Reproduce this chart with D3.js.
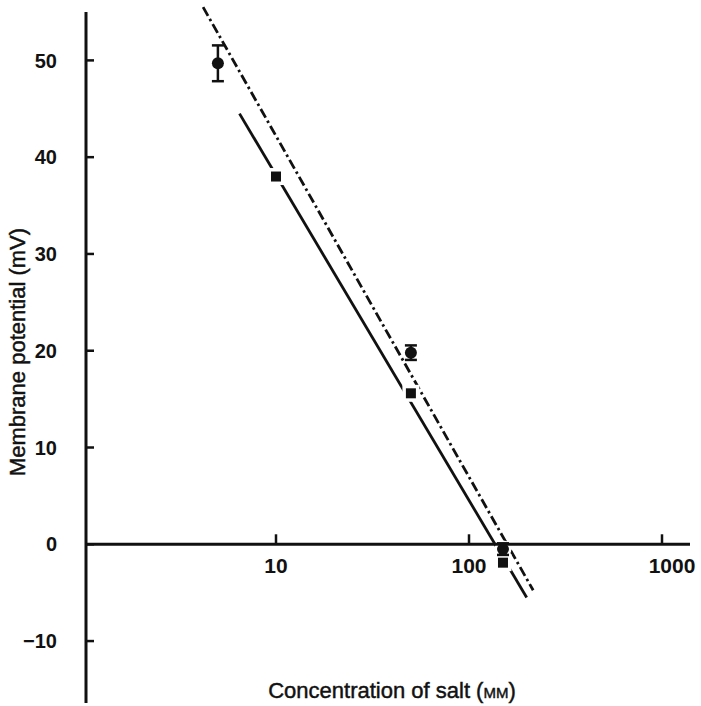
<!DOCTYPE html>
<html>
<head>
<meta charset="utf-8">
<script src="https://cdn.jsdelivr.net/npm/d3@7"></script>
<style>
  body { margin: 0; background: #fff; }
  svg { display: block; }
  text { font-family: "Liberation Sans", Arial, Helvetica, sans-serif; fill: #111; }
  .title { stroke: #111; stroke-width: 0.45px; }
</style>
</head>
<body>
<svg id="chart" width="701" height="706"></svg>
<script>
// values
var circleConc = [5, 50, 150];
var circleMv = [49.7, 19.8, -0.5];
var circleErr = [1.85, 0.75, 0.6];

var squareConc = [10, 50, 150];
var squareMv = [38.0, 15.6, -1.9];

// fitted lines (end points)
var solidConc = [6.47, 199];
var solidMv = [44.5, -5.5];
var dashConc = [4.19, 215];
var dashMv = [55.5, -4.75];

var xTicks = [10, 100, 1000];
var yTicks = [-10, 0, 10, 20, 30, 40, 50];

var width = 701, height = 706;
var axisX = 86;   // where the y axis sits
var axisRight = 690;

var svg = d3.select("#chart");

var xScale = d3.scaleLog().domain([1, 1000]).range([83, 662]);
var yScale = d3.scaleLinear().domain([-16.4, 55]).range([703, 12]);

var ink = "#111";

// lines
var line = d3.line().x(d => xScale(d[0])).y(d => yScale(d[1]));

svg.append("path")
    .attr("d", line(d3.zip(solidConc, solidMv)))
    .attr("fill", "none")
    .attr("stroke", ink)
    .attr("stroke-width", 2.8);

svg.append("path")
    .attr("d", line(d3.zip(dashConc, dashMv)))
    .attr("fill", "none")
    .attr("stroke", ink)
    .attr("stroke-width", 2.8)
    .attr("stroke-dasharray", "10,3.5,2.5,3.5");

var circles = circleConc.map((c, i) => ({c: c, v: circleMv[i], e: circleErr[i]}));
var squares = squareConc.map((c, i) => ({c: c, v: squareMv[i]}));

// white halos so the lines break round the markers
svg.selectAll(".halo-sq").data(squares).enter().append("rect")
    .attr("x", d => xScale(d.c) - 5)
    .attr("y", d => yScale(d.v) - 5)
    .attr("width", 10).attr("height", 10)
    .attr("fill", "#fff").attr("stroke", "#fff").attr("stroke-width", 7);

svg.selectAll(".halo-ci").data(circles).enter().append("circle")
    .attr("cx", d => xScale(d.c))
    .attr("cy", d => yScale(d.v))
    .attr("r", 6)
    .attr("fill", "#fff").attr("stroke", "#fff").attr("stroke-width", 5);

// axes
svg.append("line")
    .attr("x1", axisX).attr("x2", axisX)
    .attr("y1", yScale(55)).attr("y2", yScale(-16.4))
    .attr("stroke", ink).attr("stroke-width", 3);

svg.append("line")
    .attr("x1", axisX).attr("x2", axisRight)
    .attr("y1", yScale(0)).attr("y2", yScale(0))
    .attr("stroke", ink).attr("stroke-width", 3);

svg.selectAll(".xtick").data(xTicks).enter().append("line")
    .attr("x1", d => xScale(d)).attr("x2", d => xScale(d))
    .attr("y1", yScale(0)).attr("y2", yScale(0) - 10)
    .attr("stroke", ink).attr("stroke-width", 2.5);

svg.selectAll(".xlab").data(xTicks).enter().append("text")
    .attr("x", d => xScale(d) + (d === 1000 ? 10 : 0))
    .attr("y", yScale(0) + 29)
    .attr("text-anchor", "middle")
    .attr("font-size", 21)
    .attr("font-weight", "bold")
    .text(d => d);

svg.selectAll(".ytick").data(yTicks).enter().append("line")
    .attr("x1", axisX).attr("x2", axisX + 8)
    .attr("y1", d => yScale(d)).attr("y2", d => yScale(d))
    .attr("stroke", ink).attr("stroke-width", 2.5);

svg.selectAll(".ylab").data(yTicks).enter().append("text")
    .attr("x", 57)
    .attr("y", d => yScale(d))
    .attr("dy", "0.36em")
    .attr("text-anchor", "end")
    .attr("font-size", 20)
    .attr("font-weight", "bold")
    .text(d => d < 0 ? "\u2212" + Math.abs(d) : d);

// error bars
var eb = svg.selectAll(".err").data(circles).enter().append("g");
eb.append("line")
    .attr("x1", d => xScale(d.c)).attr("x2", d => xScale(d.c))
    .attr("y1", d => yScale(d.v + d.e)).attr("y2", d => yScale(d.v - d.e))
    .attr("stroke", ink).attr("stroke-width", 2.5);
eb.append("line")
    .attr("x1", d => xScale(d.c) - 6).attr("x2", d => xScale(d.c) + 6)
    .attr("y1", d => yScale(d.v + d.e)).attr("y2", d => yScale(d.v + d.e))
    .attr("stroke", ink).attr("stroke-width", 2.5);
eb.append("line")
    .attr("x1", d => xScale(d.c) - 6).attr("x2", d => xScale(d.c) + 6)
    .attr("y1", d => yScale(d.v - d.e)).attr("y2", d => yScale(d.v - d.e))
    .attr("stroke", ink).attr("stroke-width", 2.5);

// markers
svg.selectAll(".sq").data(squares).enter().append("rect")
    .attr("x", d => xScale(d.c) - 5)
    .attr("y", d => yScale(d.v) - 5)
    .attr("width", 10).attr("height", 10)
    .attr("fill", ink);

svg.selectAll(".ci").data(circles).enter().append("circle")
    .attr("cx", d => xScale(d.c))
    .attr("cy", d => yScale(d.v))
    .attr("r", 6)
    .attr("fill", ink);

// titles
var xt = svg.append("text")
    .attr("class", "title")
    .attr("x", 392)
    .attr("y", 698)
    .attr("text-anchor", "middle")
    .attr("font-size", 22);
xt.append("tspan").text("Concentration of salt (");
xt.append("tspan").style("font-variant", "all-small-caps").text("mM");
xt.append("tspan").text(")");

svg.append("text")
    .attr("class", "title")
    .attr("transform", "translate(25,352) rotate(-90)")
    .attr("text-anchor", "middle")
    .attr("font-size", 22)
    .text("Membrane potential (mV)");
</script>
</body>
</html>
